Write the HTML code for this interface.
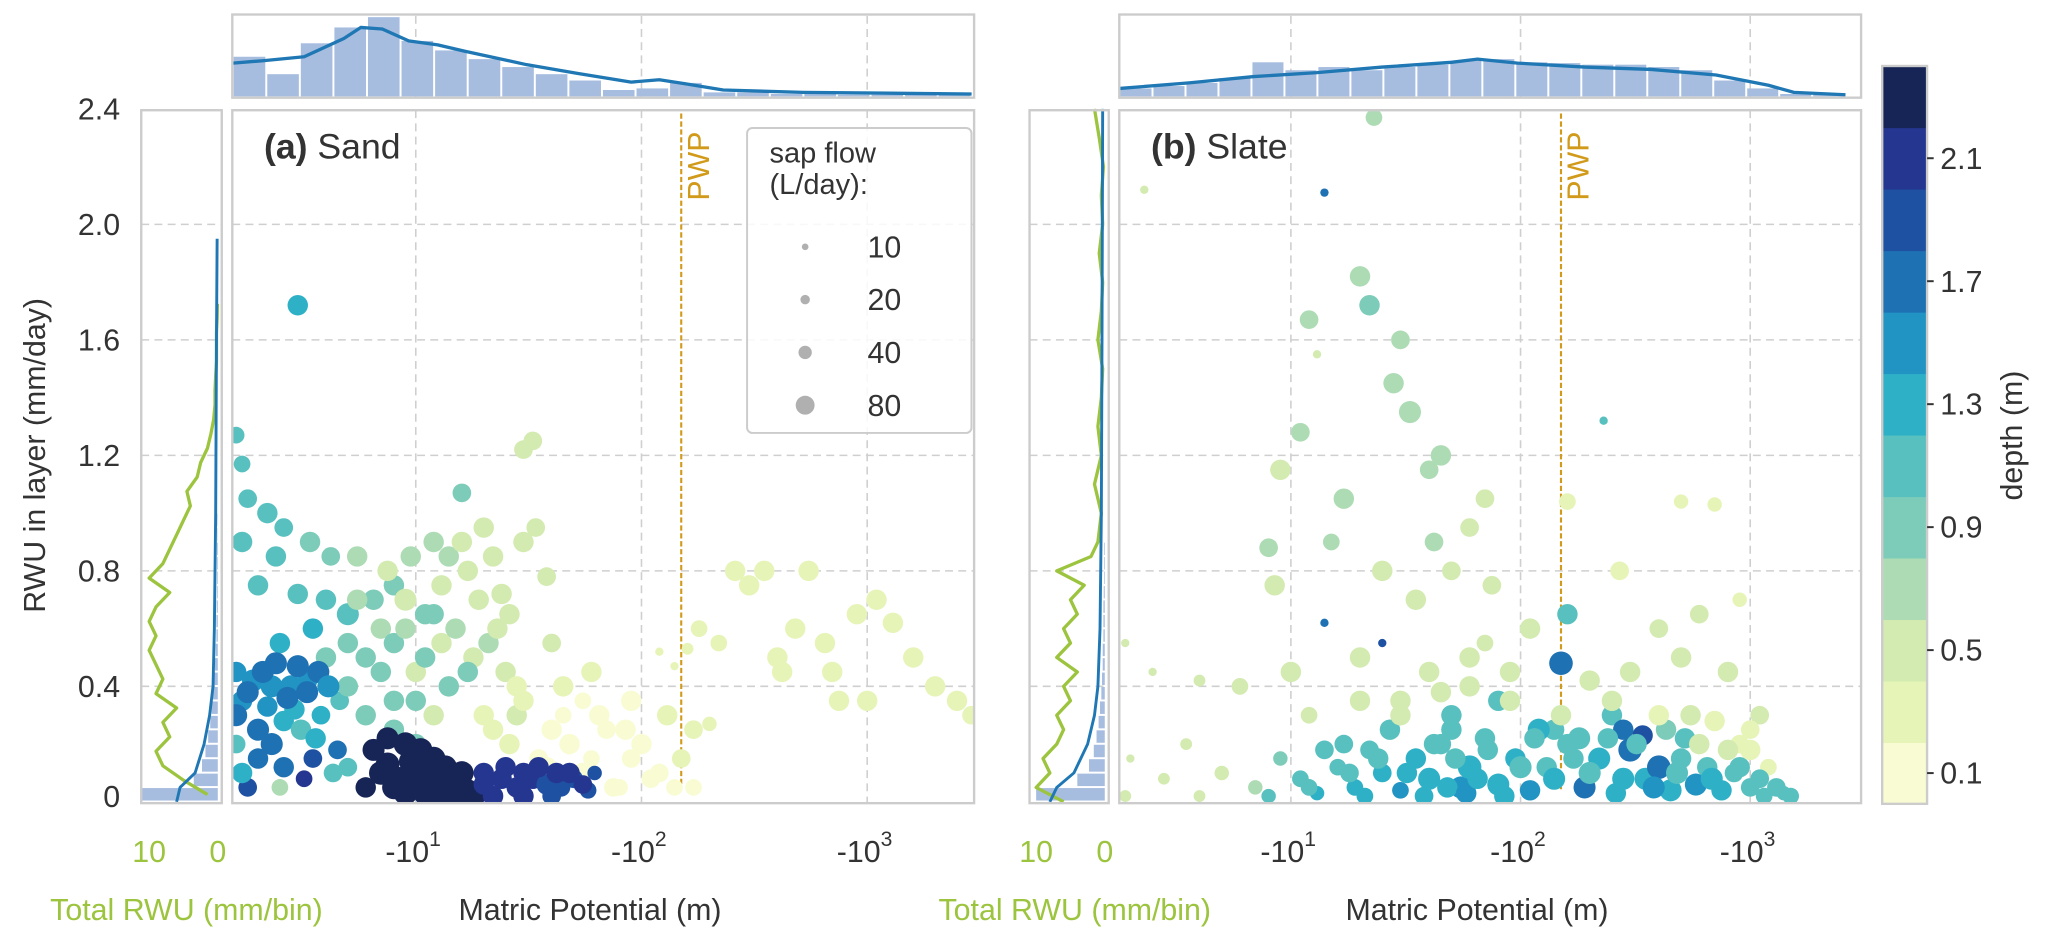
<!DOCTYPE html>
<html><head><meta charset="utf-8">
<style>
html,body{margin:0;padding:0;background:#fff;}
svg{display:block;font-family:"Liberation Sans",Arial,sans-serif;}
</style></head>
<body>
<svg id="fig" width="2067" height="944" viewBox="0 0 1566 715.2" xmlns="http://www.w3.org/2000/svg">
<g id="layer"></g>
</svg>
<script>
// ---------- data ----------
const depthBinColors = ['#f9fcd3','#e6f4b8','#d3ebb0','#addcb4','#7dcbb9','#59c0c0','#2eb1c6','#2194c3','#1e71b3','#1f51a2','#253690','#172556'];
const cbTicks = [0.1,0.5,0.9,1.3,1.7,2.1];
const yTicks = [0,0.4,0.8,1.2,1.6,2.0,2.4];
const yTickLabels = ['0','0.4','0.8','1.2','1.6','2.0','2.4'];
const xDecades = [1,2,3];
const legendSap = [10,20,40,80];
const pwp = 150;

// Panel A scatter: |psi| (m), RWU (mm/day), depth (m), sap flow (L/day)
const psiA = [3.0,1.6,1.7,1.8,2.2,2.6,1.7,2.4,3.4,4.2,5.5,2.0,3.0,4.0,5.0,6.5,8.0,3.5,2.5,
  1.6,1.9,2.3,2.8,3.3,1.7,2.2,2.9,3.8,4.6,1.6,2.0,2.6,3.5,4.5,1.8,2.5,3.2,
  5,7,9,12,14,17,16,20,24,30,34,38,30,33,13,18,10,25,40,6,8,12,20,28,4,11,
  45,55,70,90,110,140,170,60,80,
  140,160,180,220,260,300,350,420,480,550,650,750,900,1100,1300,1600,2000,2500,2900,700,400,1000,200,120,
  22,26,30,35,40,48,55,65,75,85,100,120,150,28,45,60,90,130,170,38,
  5,6,7,8,9,10,11,12,14,15,17,19,21,23,26,5.5,7.5,9.5,13,16,22,8,10,12,
  1.6,1.8,2.1,2.4,2.7,3.0,3.3,3.7,4.1,1.7,2.0,2.3,2.6,3.1,3.6,4.3,5.0,
  6.5,7.5,9,10.5,12,7,8.5,10,11.5,13,15,9,11,14,17,6,
  7.5,8,9.5,10,11,12.5,13.5,15,16,18,
  20,24,28,33,38,44,50,58,22,30,40,62,20,25,30,35,42,48,55];
const rwuA = [1.72,1.27,1.17,1.05,1.0,0.95,0.9,0.85,0.9,0.85,0.85,0.75,0.72,0.7,0.65,0.7,0.75,0.6,0.55,
  0.45,0.42,0.4,0.4,0.42,0.35,0.33,0.32,0.3,0.35,0.2,0.15,0.12,0.15,0.18,0.05,0.05,0.08,
  0.55,0.6,0.7,0.9,0.85,0.8,1.07,0.95,0.72,0.9,0.95,0.78,1.22,1.25,0.55,0.5,0.45,0.45,0.55,0.3,0.35,0.3,0.3,0.3,0.5,0.65,
  0.3,0.35,0.25,0.15,0.08,0.05,0.05,0.15,0.05,
  0.47,0.53,0.6,0.55,0.8,0.75,0.8,0.45,0.6,0.8,0.55,0.35,0.65,0.7,0.62,0.5,0.4,0.35,0.3,0.45,0.5,0.35,0.27,0.52,
  0.25,0.2,0.35,0.15,0.25,0.2,0.1,0.3,0.05,0.25,0.2,0.1,0.15,0.4,0.4,0.45,0.35,0.3,0.25,0.12,
  0.4,0.5,0.45,0.55,0.6,0.35,0.5,0.65,0.4,0.6,0.45,0.7,0.55,0.6,0.65,0.7,0.8,0.85,0.75,0.9,0.85,0.25,0.2,0.15,
  0.3,0.38,0.45,0.48,0.36,0.47,0.38,0.45,0.4,0.1,0.25,0.2,0.28,0.25,0.22,0.1,0.12,
  0.18,0.22,0.2,0.18,0.15,0.1,0.08,0.1,0.08,0.08,0.06,0.03,0.03,0.03,0.04,0.05,
  0.13,0.05,0.14,0.05,0.13,0.02,0.12,0.02,0.1,0.02,
  0.06,0.08,0.05,0.08,0.06,0.05,0.08,0.04,0.02,0.02,0.02,0.1,0.1,0.12,0.1,0.12,0.1,0.1,0.06];
const depthA = [1.3,1.0,1.0,1.1,1.1,1.1,1.0,1.1,0.9,0.8,0.7,1.2,1.2,1.1,1.0,0.9,0.8,1.3,1.4,
  1.5,1.5,1.5,1.5,1.5,1.5,1.5,1.4,1.3,1.2,1.2,1.7,1.7,1.8,1.6,1.8,0.7,2.0,
  0.8,0.7,0.6,0.7,0.7,0.6,0.8,0.6,0.6,0.5,0.5,0.6,0.4,0.4,0.6,0.5,0.5,0.4,0.5,0.9,0.8,0.5,0.3,0.4,0.9,0.8,
  0.1,0.1,0.1,0.1,0.1,0.1,0.1,0.1,0.1,
  0.3,0.3,0.3,0.3,0.3,0.3,0.3,0.3,0.3,0.3,0.3,0.3,0.3,0.3,0.3,0.3,0.3,0.3,0.3,0.3,0.3,0.3,0.3,0.3,
  0.3,0.3,0.2,0.1,0.1,0.1,0.1,0.1,0.1,0.1,0.1,0.1,0.3,0.3,0.3,0.3,0.1,0.3,0.3,0.1,
  0.9,0.8,0.9,0.8,0.7,0.8,0.9,0.8,0.9,0.7,0.8,0.6,0.7,0.5,0.6,0.7,0.6,0.7,0.6,0.6,0.5,0.9,0.8,0.7,
  1.6,1.6,1.6,1.6,1.6,1.6,1.6,1.6,1.5,1.4,1.6,1.6,1.3,1.2,1.3,1.1,1.0,
  2.3,2.3,2.3,2.3,2.3,2.3,2.3,2.3,2.3,2.3,2.3,2.3,2.3,2.3,2.2,2.3,
  2.3,2.3,2.3,2.3,2.3,2.3,2.3,2.3,2.3,2.3,
  2.1,2.1,2.0,2.0,1.9,1.9,1.9,1.8,2.1,2.0,1.9,1.8,2.0,2.0,2.0,2.0,2.0,2.0,2.0];
const sapA = [60,40,40,50,60,50,60,60,60,50,60,60,60,60,70,60,60,60,60,
  60,70,70,70,60,60,60,60,50,50,50,60,60,50,50,50,40,40,
  60,60,70,60,60,60,50,60,60,60,50,50,50,50,60,60,60,60,50,60,60,60,60,60,60,60,
  40,40,50,50,50,40,40,40,40,
  10,20,40,40,60,60,60,60,60,60,60,60,60,60,60,60,60,60,50,60,60,60,30,10,
  60,60,60,50,60,60,60,60,50,60,60,50,50,60,60,60,60,60,50,60,
  60,60,60,60,60,60,60,60,60,60,60,60,60,60,60,60,60,60,60,60,60,60,60,60,
  70,70,70,70,70,70,70,70,70,60,70,70,60,60,60,50,50,
  70,70,80,80,80,80,80,80,80,70,70,80,80,70,70,60,
  80,80,80,80,80,80,80,80,80,80,
  60,60,60,60,60,50,50,40,60,60,50,30,60,60,60,60,60,60,50];

// Panel B scatter
const psiB = [2.3,14,23,20,22,12,30,28,33,45,11,9,40,17,70,60,42,15,8,230,160,500,700,13,
  8.5,25,50,75,110,35,160,270,400,600,900,1.9,2.5,4,6,10,20,40,60,90,200,300,500,800,14,25,70,30,12,50,80,140,250,550,1100,
  2.0,2.8,3.5,5,7,9,11,13,16,19,22,25,30,35,40,45,55,60,70,80,95,110,130,160,190,220,260,300,350,400,450,500,580,650,750,850,1000,1150,1400,280,340,120,50,17,8,1.9,4,1200,900,150,180,
  12,14,18,21,24,27,32,38,42,48,52,58,65,72,85,100,115,140,170,200,240,280,320,380,430,480,520,600,680,800,900,1000,1100,1300,1500,20,30,45,60,90,150,250,400,700,1000];
const rwuB = [2.12,2.11,2.37,1.82,1.72,1.67,1.6,1.45,1.35,1.2,1.28,1.15,1.15,1.05,1.05,0.95,0.9,0.9,0.88,1.32,1.04,1.04,1.03,1.55,
  0.75,0.8,0.8,0.75,0.6,0.7,0.65,0.8,0.6,0.65,0.7,0.55,0.45,0.42,0.4,0.45,0.5,0.45,0.5,0.45,0.42,0.45,0.5,0.45,0.62,0.55,0.55,0.35,0.3,0.3,0.35,0.25,0.3,0.3,0.3,
  0.15,0.08,0.2,0.1,0.05,0.15,0.08,0.03,0.12,0.05,0.18,0.1,0.04,0.15,0.08,0.2,0.05,0.12,0.22,0.06,0.15,0.04,0.12,0.2,0.05,0.15,0.03,0.18,0.08,0.12,0.04,0.15,0.06,0.12,0.04,0.1,0.05,0.02,0.03,0.25,0.23,0.25,0.25,0.2,0.02,0.02,0.02,0.12,0.2,0.48,0.22,
  0.05,0.18,0.1,0.02,0.15,0.25,0.1,0.02,0.2,0.05,0.15,0.03,0.08,0.18,0.02,0.12,0.22,0.08,0.15,0.1,0.22,0.08,0.2,0.05,0.25,0.1,0.22,0.2,0.08,0.18,0.12,0.18,0.08,0.05,0.02,0.35,0.3,0.38,0.4,0.35,0.3,0.35,0.3,0.28,0.25];
const depthB = [0.5,1.7,0.7,0.7,0.8,0.7,0.7,0.7,0.7,0.7,0.7,0.6,0.7,0.7,0.6,0.6,0.7,0.7,0.7,1.1,0.3,0.3,0.3,0.5,
  0.6,0.6,0.5,0.5,0.5,0.5,1.1,0.3,0.4,0.4,0.3,0.5,0.6,0.6,0.5,0.5,0.6,0.5,0.5,0.5,0.5,0.5,0.5,0.4,1.7,1.9,0.5,0.6,0.5,1.1,1.2,1.1,1.0,0.6,0.5,
  0.5,0.6,0.5,0.6,0.7,0.9,1.1,1.3,1.2,1.4,1.2,1.3,1.5,1.3,1.4,1.2,1.5,1.3,1.2,1.4,1.3,1.5,1.2,1.2,1.6,1.3,1.4,1.6,1.3,1.7,1.4,1.2,1.5,1.2,1.3,1.2,1.2,1.1,1.0,1.7,1.8,1.3,1.1,1.1,1.0,0.5,0.6,0.3,0.3,1.6,1.1,
  1.1,1.0,1.2,1.3,1.1,1.2,1.3,1.4,1.0,1.3,1.2,1.5,1.3,1.1,1.4,1.2,1.0,1.3,1.1,1.2,1.1,1.4,1.0,1.5,0.9,1.2,1.0,0.5,1.3,0.4,1.1,0.3,1.0,1.0,1.1,0.5,0.6,0.5,0.6,0.5,0.4,0.4,0.3,0.3,0.3];
const sapB = [10,10,40,60,60,50,50,60,70,60,50,60,50,60,50,50,50,40,50,10,40,30,30,10,
  60,60,50,50,60,60,60,50,50,50,30,10,10,20,40,60,60,60,60,60,60,60,60,60,10,10,40,60,40,60,60,60,60,60,50,
  10,20,20,30,30,30,40,30,40,40,50,50,40,60,70,60,70,80,60,70,60,60,60,60,70,70,60,80,70,80,70,60,70,60,60,50,50,40,30,60,60,70,60,50,30,20,20,40,50,80,70,
  40,50,50,40,60,60,60,50,60,60,60,60,60,60,60,70,60,70,60,70,60,70,60,70,60,70,60,60,70,60,60,60,50,50,40,60,60,60,60,60,60,60,60,60,50];

// Top marginal histograms (relative counts over 22 equal log bins) and KDE
const histTopA = [0.5,0.28,0.67,0.87,1.0,0.7,0.58,0.47,0.37,0.28,0.2,0.08,0.1,0.17,0.05,0.05,0.03,0.03,0.02,0.02,0.02,0.02];
const kdePsiA = [1.55,2.1,3.2,4.8,5.7,7.1,9.3,12.5,16.5,31,52,90,120,155,230,520,2900];
const kdeValA = [0.42,0.45,0.5,0.73,0.87,0.85,0.7,0.65,0.57,0.4,0.29,0.18,0.21,0.16,0.08,0.05,0.03];
const histTopB = [0.1,0.13,0.17,0.23,0.43,0.33,0.37,0.33,0.37,0.4,0.45,0.47,0.43,0.42,0.4,0.4,0.37,0.33,0.2,0.1,0.03,0.02];
const kdePsiB = [1.8,3.6,6.9,13,25,50,65,97,190,370,710,1200,1550,2600];
const kdeValB = [0.1,0.17,0.25,0.3,0.37,0.43,0.47,0.42,0.37,0.34,0.27,0.14,0.05,0.02];

// Left marginals: RWU bins (0.05 mm/day steps from 0)
const rwuBins = [0.025,0.075,0.125,0.175,0.225,0.275,0.325,0.375,0.425,0.475,0.525,0.575,0.625,0.675,0.725,0.775,0.825,0.875,0.925,0.975,1.025,1.075,1.125,1.175,1.225,1.275,1.325,1.375,1.425,1.475,1.525,1.575,1.625,1.675,1.725];
const totalA = [1.5,5,8,9,7,8,6,9,8,9,10,9,10,9,7,10,8,7,6,5,4,4.5,3,2.5,1.5,1,0.6,0.4,0.4,0.3,0.2,0.2,0.2,0.1,0.05];
const histLeftA = [11.3,3.5,2.3,1.8,1.4,1.1,0.9,0.7,0.5,0.4,0.3,0.2,0.2,0.15,0.1,0.1,0.1,0.1,0.05,0.05];
const kdeRwuA = [0,0.05,0.1,0.2,0.3,0.4,0.6,1.0,1.6,1.95];
const kdeValLA = [6,5.5,3.3,2,1.2,0.7,0.5,0.3,0.2,0.1];
const rwuBinsB = [0.0,0.05,0.1,0.15,0.2,0.25,0.3,0.35,0.4,0.45,0.5,0.55,0.6,0.65,0.7,0.75,0.8,0.85,0.9,1.0,1.1,1.2,1.3,1.4,1.5,1.6,1.7,1.8,1.9,2.0,2.1,2.2,2.3,2.4];
const totalB = [6,10,8,9,7,6,7,5,6,4,7,5,6,4,5,3,7,2,1,0.5,1.5,0.5,1,0.5,0.3,1,0.5,0.3,0.8,0.3,0.5,0.2,0.8,1.5];
const histLeftB = [10,4,2.3,1.6,1.2,0.9,0.7,0.5,0.4,0.3,0.3,0.2,0.2,0.2,0.15,0.1,0.1,0.1];
const kdeRwuB = [0,0.05,0.1,0.2,0.3,0.4,0.6,1.0,1.6,2.4];
const kdeValLB = [8,7,4.5,2.5,1.5,1,0.7,0.5,0.4,0.3];

// ---------- drawing ----------
const NS='http://www.w3.org/2000/svg';
const root=document.getElementById('layer');
function mk(tag,attrs,parent){const e=document.createElementNS(NS,tag);for(const k in attrs)e.setAttribute(k,attrs[k]);(parent||root).appendChild(e);return e;}
const Y0=607.5, YK=218.75;
function yPix(v){return Y0-v*YK;}
const GRID='#cfcfcf', FRAME='#cccccc', TXT='#333333', GREEN='#9cc43e', BLUE='#1f77b4', GOLD='#d19a1a';
function depthColor(d){let i=Math.floor(d/0.2);if(i<0)i=0;if(i>11)i=11;return depthBinColors[i];}
function rad(s){return 1.0*Math.sqrt(s);}

function panel(P){
  const xPix=p=>P.x10+P.k*(Math.log10(p)-1);
  const g=mk('g',{});
  
  
  const clip=mk('clipPath',{id:'clip-'+P.name},g);
  mk('rect',{x:P.x0,y:83.5,width:P.x1-P.x0,height:525},clip);
  xDecades.forEach(d=>{
    const x=P.x10+P.k*(d-1);
    const l=mk('line',{x1:x,x2:x,y1:P.top,y2:609,stroke:GRID,'stroke-width':1.2,'stroke-dasharray':'6,4'},g);
    
    
    const l2=mk('line',{x1:x,x2:x,y1:12,y2:74,stroke:GRID,'stroke-width':1.2,'stroke-dasharray':'6,4'},g);
    
    
    const t=mk('text',{x:x-2,y:653,'text-anchor':'middle','font-size':23,fill:TXT},g);
    
    
    t.textContent='-10';
    const sp=mk('tspan',{'font-size':16,dy:-12},t);sp.textContent=String(d);
  });
  yTicks.forEach((v,i)=>{
    if(i===0||i===6)return;
    const y=yPix(v);
    const l=mk('line',{x1:P.x0,x2:P.x1,y1:y,y2:y,stroke:GRID,'stroke-width':1.2,'stroke-dasharray':'6,4'},g);
    
    
    const l2=mk('line',{x1:P.lx0,x2:P.lx1,y1:y,y2:y,stroke:GRID,'stroke-width':1.2,'stroke-dasharray':'6,4'},g);
    
    
  });
  const px=xPix(pwp);
  const pl=mk('line',{x1:px,x2:px,y1:86,y2:598,stroke:GOLD,'stroke-width':1.6,'stroke-dasharray':'4,2'},g);
  
  
  const pt=mk('text',{x:px+21,y:152,transform:`rotate(-90 ${px+21} 152)`,'font-size':23,fill:GOLD},g);
  
  
  pt.textContent='PWP';
  const cg=mk('g',{'clip-path':`url(#clip-${P.name})`},g);
  
  
  P.psi.forEach((p,i)=>{
    const x=xPix(p);
    const c=mk('circle',{cx:x,cy:yPix(P.rwu[i]),r:rad(P.sap[i]),fill:depthColor(P.depth[i])},cg);
    
    
  });
  const nb=P.histTop.length, lo=Math.log10(P.psiMin), hi=Math.log10(P.psiMax), bw=(hi-lo)/nb;
  P.histTop.forEach((v,i)=>{
    const xa=P.x10+P.k*(lo+i*bw-1), xb=P.x10+P.k*(lo+(i+1)*bw-1);
    const r=mk('rect',{x:xa+0.5,y:73-v*60,width:xb-xa-1.5,height:v*60,fill:'#a6bddf'},g);
    
    
  });
  const kp=P.kdePsi.map((p,i)=>`${xPix(p).toFixed(1)},${(73-P.kdeVal[i]*60).toFixed(1)}`).join(' ');
  const kl=mk('polyline',{points:kp,fill:'none',stroke:BLUE,'stroke-width':2.5,'stroke-linejoin':'round'},g);
  
  
  const lxp=v=>P.lx1-3-v*P.lk;
  P.histLeft.forEach((v,i)=>{
    const r=mk('rect',{x:lxp(v),y:yPix((i+1)*0.05)+0.5,width:v*P.lk,height:0.05*YK-1.5,fill:'#a6bddf'},g);
    
    
  });
  const gp=P.total.map((v,i)=>`${lxp(v).toFixed(1)},${yPix(P.totBins[i]).toFixed(1)}`).join(' ');
  const gl=mk('polyline',{points:gp,fill:'none',stroke:GREEN,'stroke-width':2.5,'stroke-linejoin':'round'},g);
  
  
  const bp=P.kdeL.map((v,i)=>`${lxp(v).toFixed(1)},${yPix(P.kdeR[i]).toFixed(1)}`).join(' ');
  const bl=mk('polyline',{points:bp,fill:'none',stroke:BLUE,'stroke-width':2.2,'stroke-linejoin':'round'},g);
  
  
  [[10,'10'],[0,'0']].forEach(([v,s])=>{
    const t=mk('text',{x:lxp(v),y:653,'text-anchor':'middle','font-size':23,fill:GREEN},g);
    
    
    t.textContent=s;
  });
  [[P.x0,83.5,P.x1-P.x0,525],[P.x0,11,P.x1-P.x0,63],[P.lx0,83.5,P.lx1-P.lx0,525]].forEach((a,j)=>{
    const r=mk('rect',{x:a[0],y:a[1],width:a[2],height:a[3],fill:'none',stroke:FRAME,'stroke-width':1.8},g);
    
    
  });
  const tt=mk('text',{x:P.x0+24,y:120,'font-size':27,fill:TXT},g);
  
  
  const tb=mk('tspan',{'font-weight':'bold'},tt);tb.textContent=P.label;
  const tn=mk('tspan',{},tt);tn.textContent=' '+P.title;
  const xt=mk('text',{x:(P.x0+P.x1)/2-10,y:697,'text-anchor':'middle','font-size':23,fill:TXT},g);
  
  
  xt.textContent='Matric Potential (m)';
  const gt=mk('text',{x:P.lx0-69,y:697,'font-size':23,fill:GREEN},g);
  
  
  gt.textContent='Total RWU (mm/bin)';
}

panel({name:'sand',label:'(a)',title:'Sand',x0:176,x1:738,x10:315,k:171,lx0:107,lx1:168,lk:5.2,top:83.5,
  psi:psiA,rwu:rwuA,depth:depthA,sap:sapA,histTop:histTopA,psiMin:1.55,psiMax:2900,kdePsi:kdePsiA,kdeVal:kdeValA,
  histLeft:histLeftA,total:totalA,totBins:rwuBins,kdeL:kdeValLA,kdeR:kdeRwuA});
panel({name:'slate',label:'(b)',title:'Slate',x0:848,x1:1410,x10:978,k:174,lx0:780,lx1:840,lk:5.2,top:83.5,
  psi:psiB,rwu:rwuB,depth:depthB,sap:sapB,histTop:histTopB,psiMin:1.8,psiMax:2600,kdePsi:kdePsiB,kdeVal:kdeValB,
  histLeft:histLeftB,total:totalB,totBins:rwuBinsB,kdeL:kdeValLB,kdeR:kdeRwuB});

yTicks.forEach((v,i)=>{
  const t=mk('text',{x:91,y:yPix(v)+(i===0?4:8),'text-anchor':'end','font-size':23,fill:TXT});
  
  
  t.textContent=yTickLabels[i];
});
const yt=mk('text',{x:34,y:345,transform:'rotate(-90 34 345)','text-anchor':'middle','font-size':23,fill:TXT});


yt.textContent='RWU in layer (mm/day)';

const lg=mk('g',{});


const lr=mk('rect',{x:566,y:97,width:170,height:231,rx:4,fill:'#fff','fill-opacity':0.85,stroke:'#cccccc','stroke-width':1.5},lg);


['sap flow','(L/day):'].forEach((s,i)=>{
  const t=mk('text',{x:583,y:123+i*24,'font-size':22,fill:TXT},lg);
  
  
  t.textContent=s;
});
legendSap.forEach((s,i)=>{
  const y=187+i*40;
  const c=mk('circle',{cx:610,cy:y,r:rad(s)*0.8,fill:'#b0b0b0'},lg);
  
  
  const t=mk('text',{x:670,y:y+8,'text-anchor':'middle','font-size':23,fill:TXT},lg);
  
  
  t.textContent=String(s);
});

const cbTop=50, cbBot=609, cbX=1426, cbW=34, bh=(cbBot-cbTop)/12;
depthBinColors.forEach((c,i)=>{
  const r=mk('rect',{x:cbX,y:cbBot-(i+1)*bh,width:cbW,height:bh+0.5,fill:c});
  
  
});
const cbf=mk('rect',{x:cbX,y:cbTop,width:cbW,height:cbBot-cbTop,fill:'none',stroke:FRAME,'stroke-width':1.8});


cbTicks.forEach(v=>{
  const y=cbBot-v/0.2*bh;
  const l=mk('line',{x1:cbX+cbW,x2:cbX+cbW+5,y1:y,y2:y,stroke:TXT,'stroke-width':1.5});
  
  
  const t=mk('text',{x:cbX+cbW+10,y:y+8,'font-size':23,fill:TXT});
  
  
  t.textContent=v.toFixed(1);
});
const cbt=mk('text',{x:1532,y:330,transform:'rotate(-90 1532 330)','text-anchor':'middle','font-size':23,fill:TXT});


cbt.textContent='depth (m)';
</script>
</body></html>
